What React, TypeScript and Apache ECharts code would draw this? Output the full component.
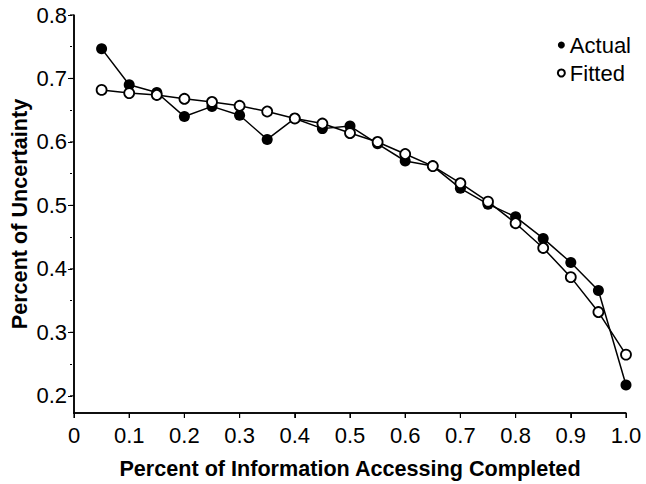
import React, { useEffect, useRef } from "react";
import * as echarts from "echarts";

const xValues = [0.05, 0.1, 0.15, 0.2, 0.25, 0.3, 0.35, 0.4, 0.45, 0.5, 0.55, 0.6, 0.65, 0.7, 0.75, 0.8, 0.85, 0.9, 0.95, 1.0];
const actual = [0.747, 0.69, 0.678, 0.64, 0.656, 0.642, 0.604, 0.637, 0.621, 0.625, 0.597, 0.57, 0.562, 0.527, 0.502, 0.482, 0.448, 0.41, 0.366, 0.217];
const fitted = [0.682, 0.677, 0.674, 0.668, 0.663, 0.657, 0.648, 0.637, 0.629, 0.614, 0.6, 0.581, 0.562, 0.535, 0.506, 0.472, 0.433, 0.387, 0.332, 0.265];
const xTicks = [0, 0.1, 0.2, 0.3, 0.4, 0.5, 0.6, 0.7, 0.8, 0.9, 1.0];
const yTicks = [0.2, 0.3, 0.4, 0.5, 0.6, 0.7, 0.8];
const yTickStep = 0.1;
const yAxisMin = 0.173;
const yAxisMax = 0.8;
const xMin = 0;
const xMax = 1;
const xTitle = "Percent of Information Accessing Completed";
const yTitle = "Percent of Uncertainty";
const seriesNames = ["Actual", "Fitted"];

const FONT = "'Liberation Sans', Arial, Helvetica, sans-serif";

export default function App() {
  const ref = useRef<HTMLDivElement>(null);
  useEffect(() => {
    document.body.style.margin = "0";
    const chart = echarts.init(ref.current!, undefined, { renderer: "svg" });
    const pts = (ys: number[]) => xValues.map((x, i) => [x, ys[i]]);
    const H = 484;
    const left = 72;
    const right = 20;
    const top = 15;
    const bottom = 71;
    const plotH = H - top - bottom;
    const pyu = plotH / (yAxisMax - yAxisMin);
    const yLabelMin = yTicks[0];
    const yLabelMax = yTicks[yTicks.length - 1];
    const bottom1 = bottom + (yLabelMin - yAxisMin) * pyu;
    const black = { color: "#000", width: 1 };
    chart.setOption({
      animation: false,
      backgroundColor: "#ffffff",
      textStyle: { fontFamily: FONT, color: "#000" },
      grid: [
        { left, right, top, bottom },
        { left, right, top, bottom: bottom1 },
      ],
      legend: {
        right: 10,
        top: 29,
        orient: "vertical",
        itemWidth: 7,
        itemHeight: 7,
        itemGap: 6,
        textStyle: { fontSize: 22, color: "#000", fontFamily: FONT },
        data: [
          { name: seriesNames[0], icon: "circle" },
          { name: seriesNames[1], icon: "circle" },
        ],
      },
      xAxis: [
        {
          type: "value",
          gridIndex: 0,
          min: xMin,
          max: xMax,
          interval: 0.1,
          name: xTitle,
          nameLocation: "middle",
          nameGap: 44,
          nameTextStyle: { fontSize: 21.6, fontWeight: "bold", color: "#000", fontFamily: FONT },
          splitLine: { show: false },
          axisLine: { show: true, onZero: false, lineStyle: { color: "#000", width: 1.5 } },
          axisTick: { show: true, length: 5, lineStyle: black },
          axisLabel: {
            fontSize: 22,
            color: "#000",
            margin: 11,
            formatter: (v: number) => (v === 0 ? "0" : v.toFixed(1)),
          },
        },
        { type: "value", gridIndex: 1, min: xMin, max: xMax, show: false },
      ],
      yAxis: [
        {
          type: "value",
          gridIndex: 0,
          min: yAxisMin,
          max: yAxisMax,
          name: yTitle,
          nameLocation: "middle",
          nameGap: 44,
          nameTextStyle: { fontSize: 21.6, fontWeight: "bold", color: "#000", fontFamily: FONT },
          splitLine: { show: false },
          axisLine: { show: true, onZero: false, lineStyle: { color: "#000", width: 1.5 } },
          axisTick: { show: false },
          axisLabel: { show: false },
        },
        {
          type: "value",
          gridIndex: 1,
          min: yLabelMin,
          max: yLabelMax,
          interval: yTickStep,
          splitLine: { show: false },
          axisLine: { show: false },
          axisTick: { show: true, length: 4, lineStyle: black },
          minorTick: { show: true, splitNumber: 2, length: 2, lineStyle: black },
          axisLabel: {
            fontSize: 22,
            color: "#000",
            margin: 5,
            formatter: (v: number) => v.toFixed(1),
          },
        },
      ],
      series: [
        {
          name: seriesNames[0],
          type: "line",
          xAxisIndex: 0,
          yAxisIndex: 0,
          data: pts(actual),
          symbol: "circle",
          symbolSize: 11,
          clip: false,
          lineStyle: { color: "#000", width: 1.5 },
          itemStyle: { color: "#000" },
          z: 2,
        },
        {
          name: seriesNames[1],
          type: "line",
          xAxisIndex: 0,
          yAxisIndex: 0,
          data: pts(fitted),
          symbol: "circle",
          symbolSize: 10,
          clip: false,
          lineStyle: { color: "#000", width: 1.5 },
          itemStyle: { color: "#fff", borderColor: "#000", borderWidth: 1.8 },
          z: 3,
        },
      ],
    });

    // Axis lines and ticks placed through the chart's own scales.
    const toPx = (v: number[]) => chart.convertToPixel({ gridIndex: 0 }, v) as number[];
    const origin = toPx([xMin, yAxisMin]);
    const yTop = toPx([xMin, yAxisMax]);
    const xEnd = toPx([xMax, yAxisMin]);
    const axisStyle = { stroke: "#000", lineWidth: 1.5 };
    const tickStyle = { stroke: "#000", lineWidth: 1.2 };
    const elements: any[] = [
      {
        type: "line",
        z: 100,
        silent: true,
        shape: { x1: origin[0], y1: origin[1] + 0.75, x2: yTop[0], y2: yTop[1] },
        style: axisStyle,
      },
      {
        type: "line",
        z: 100,
        silent: true,
        shape: { x1: origin[0] - 0.75, y1: origin[1], x2: xEnd[0], y2: xEnd[1] },
        style: axisStyle,
      },
    ];
    xTicks.forEach((x) => {
      const p = toPx([x, yAxisMin]);
      elements.push({
        type: "line",
        z: 100,
        silent: true,
        shape: { x1: p[0], y1: p[1], x2: p[0], y2: p[1] + 5 },
        style: tickStyle,
      });
    });
    yTicks.forEach((y) => {
      const p = toPx([xMin, y]);
      elements.push({
        type: "line",
        z: 100,
        silent: true,
        shape: { x1: p[0] - 4, y1: p[1], x2: p[0], y2: p[1] },
        style: tickStyle,
      });
    });
    chart.setOption({ graphic: { elements } });

    return () => chart.dispose();
  }, []);
  return <div ref={ref} style={{ position: "fixed", left: 0, top: 0, width: 646, height: 484 }} />;
}
